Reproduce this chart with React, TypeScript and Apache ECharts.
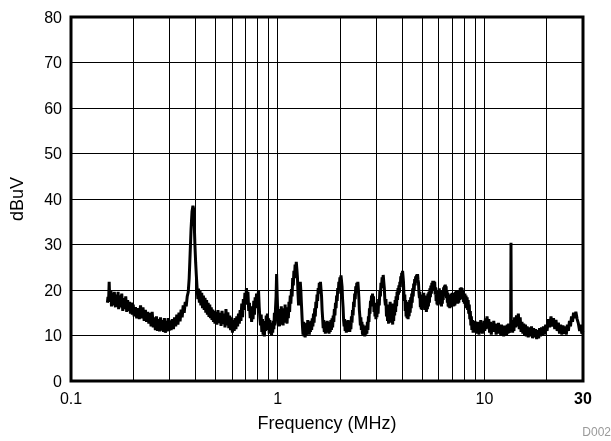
import { useEffect, useRef } from "react";
import * as echarts from "echarts";

// Conducted emission trace, [frequency MHz, level dBuV]
const trace150kTo200k: number[][] = [
  [0.150, 17.2], [0.151, 18.5], [0.152, 17.4], [0.153, 21.8], [0.154, 17.6], [0.156, 19.8], [0.157, 16.4], [0.159, 19.4],
  [0.160, 16.6], [0.162, 19.6], [0.164, 16.2], [0.165, 19.0], [0.167, 16.4], [0.169, 19.6], [0.170, 15.8], [0.172, 18.8],
  [0.174, 16.2], [0.176, 19.2], [0.178, 15.4], [0.180, 18.2], [0.182, 15.8], [0.184, 18.6], [0.186, 15.2], [0.188, 17.8],
  [0.190, 15.4], [0.192, 17.4], [0.194, 14.8], [0.196, 17.2], [0.198, 14.6], [0.200, 16.8],
];

const trace200kTo500k: number[][] = [
  [0.202, 14.2], [0.205, 16.2], [0.208, 13.8], [0.211, 16.0], [0.214, 13.6], [0.217, 16.6], [0.220, 13.8], [0.223, 16.2],
  [0.226, 13.2], [0.229, 15.6], [0.232, 13.0], [0.235, 15.2], [0.238, 12.6], [0.241, 15.0], [0.244, 12.0], [0.247, 15.2],
  [0.250, 11.8], [0.253, 14.0], [0.256, 11.2], [0.259, 14.2], [0.262, 11.0], [0.265, 13.6], [0.268, 10.9], [0.271, 14.0],
  [0.274, 11.1], [0.277, 13.4], [0.280, 10.8], [0.283, 13.8], [0.286, 10.6], [0.289, 13.2], [0.292, 10.9], [0.295, 13.8],
  [0.298, 11.0], [0.301, 13.3], [0.305, 11.2], [0.309, 13.6], [0.313, 11.4], [0.317, 14.0], [0.321, 12.0], [0.325, 14.6],
  [0.329, 12.4], [0.333, 15.0], [0.337, 13.1], [0.341, 15.7], [0.345, 14.0], [0.349, 16.6], [0.353, 15.0], [0.357, 17.4],
  [0.361, 16.4], [0.365, 18.6], [0.369, 19.5], [0.373, 22.5], [0.377, 28.0], [0.381, 33.5], [0.385, 37.2], [0.389, 38.5],
  [0.392, 37.8], [0.395, 34.0], [0.398, 29.5], [0.401, 26.0], [0.404, 23.2], [0.408, 20.0], [0.411, 18.0], [0.414, 20.3],
  [0.418, 17.2], [0.421, 19.8], [0.425, 16.6], [0.429, 19.4], [0.433, 16.0], [0.437, 18.8], [0.441, 15.6], [0.445, 18.3],
  [0.449, 15.0], [0.453, 17.8], [0.457, 14.6], [0.461, 17.2], [0.465, 14.1], [0.469, 16.8], [0.473, 13.8], [0.477, 16.2],
  [0.481, 13.4], [0.485, 15.7], [0.489, 13.0], [0.493, 15.4], [0.497, 12.6],
];

const trace500kTo1M: number[][] = [
  [0.502, 15.2], [0.508, 12.4], [0.514, 15.6], [0.520, 12.7], [0.526, 15.0], [0.532, 12.1], [0.538, 15.4], [0.544, 12.5],
  [0.550, 14.8], [0.556, 11.8], [0.562, 15.8], [0.568, 12.2], [0.574, 15.1], [0.580, 11.6], [0.586, 14.4], [0.592, 11.2],
  [0.598, 14.0], [0.604, 10.6], [0.610, 13.4], [0.616, 11.0], [0.622, 13.8], [0.628, 11.4], [0.634, 14.2], [0.640, 12.0],
  [0.646, 14.8], [0.652, 12.6], [0.658, 15.6], [0.664, 13.2], [0.670, 17.0], [0.676, 14.0], [0.682, 18.0], [0.688, 15.6],
  [0.694, 19.4], [0.700, 16.8], [0.706, 20.4], [0.712, 17.6], [0.718, 19.6], [0.724, 15.4], [0.730, 17.2], [0.736, 13.8],
  [0.742, 16.0], [0.748, 13.0], [0.754, 16.4], [0.760, 13.6], [0.766, 17.6], [0.772, 14.6], [0.778, 18.4], [0.784, 16.0],
  [0.790, 19.2], [0.796, 16.4], [0.802, 18.8], [0.808, 19.8], [0.814, 16.2], [0.820, 13.8], [0.826, 12.2], [0.832, 14.6],
  [0.838, 10.8], [0.844, 13.6], [0.850, 10.2], [0.856, 13.0], [0.862, 9.8], [0.868, 13.2], [0.874, 11.0], [0.880, 14.4],
  [0.886, 11.6], [0.892, 14.8], [0.898, 11.2], [0.904, 13.8], [0.910, 10.4], [0.916, 13.4], [0.922, 10.6], [0.928, 12.8],
  [0.934, 10.0], [0.940, 12.4], [0.946, 10.6], [0.952, 13.2], [0.958, 11.4], [0.964, 15.0], [0.970, 12.2], [0.976, 16.0],
  [0.982, 18.5], [0.988, 23.5], [0.994, 19.0], [1.000, 15.4],
];

const trace1MTo3M: number[][] = [
  [1.006, 12.6], [1.013, 15.8], [1.020, 12.0], [1.027, 15.0], [1.034, 12.4], [1.041, 16.4], [1.048, 13.0], [1.055, 15.2],
  [1.062, 12.2], [1.070, 16.0], [1.078, 12.8], [1.086, 16.8], [1.094, 13.6], [1.102, 15.6], [1.110, 12.6], [1.118, 16.2],
  [1.126, 13.8], [1.134, 17.4], [1.142, 15.2], [1.150, 18.8], [1.158, 17.0], [1.166, 20.2], [1.174, 18.6], [1.182, 22.6],
  [1.190, 21.0], [1.198, 24.2], [1.206, 22.6], [1.214, 25.6], [1.222, 24.2], [1.230, 26.2], [1.238, 24.6], [1.246, 22.8],
  [1.254, 19.2], [1.262, 16.6], [1.270, 18.4], [1.278, 20.2], [1.286, 21.8], [1.294, 20.0], [1.302, 17.2], [1.310, 14.6],
  [1.318, 12.0], [1.326, 10.2], [1.334, 13.0], [1.342, 9.8], [1.350, 12.6], [1.358, 9.6], [1.366, 12.2], [1.374, 10.0],
  [1.382, 12.8], [1.390, 10.4], [1.398, 13.4], [1.406, 10.6], [1.414, 13.0], [1.422, 10.2], [1.430, 12.6], [1.440, 10.8],
  [1.450, 13.2], [1.460, 11.2], [1.470, 13.8], [1.480, 12.0], [1.490, 14.8], [1.500, 12.8], [1.510, 16.0], [1.520, 14.2],
  [1.530, 17.4], [1.540, 16.0], [1.550, 19.0], [1.560, 17.6], [1.570, 20.4], [1.580, 19.2], [1.590, 21.6], [1.600, 20.4],
  [1.610, 21.8], [1.620, 20.2], [1.630, 18.6], [1.640, 15.6], [1.650, 13.8], [1.660, 11.6], [1.670, 13.4], [1.680, 10.8],
  [1.690, 13.0], [1.700, 10.4], [1.712, 12.8], [1.724, 10.6], [1.736, 13.2], [1.748, 11.0], [1.760, 13.0], [1.772, 10.4],
  [1.784, 12.6], [1.796, 10.8], [1.808, 13.4], [1.820, 11.2], [1.832, 13.8], [1.844, 11.8], [1.856, 14.4], [1.868, 13.0],
  [1.880, 15.8], [1.892, 14.4], [1.904, 17.2], [1.916, 16.0], [1.928, 18.8], [1.940, 17.6], [1.952, 20.4], [1.964, 19.2],
  [1.976, 21.8], [1.988, 20.6], [2.000, 22.8], [2.012, 21.6], [2.024, 23.2], [2.036, 22.0], [2.048, 20.8], [2.060, 18.0],
  [2.072, 16.2], [2.084, 13.4], [2.096, 12.0], [2.108, 13.6], [2.120, 11.0], [2.134, 13.2], [2.148, 10.6], [2.162, 13.0],
  [2.176, 10.8], [2.190, 13.4], [2.204, 11.2], [2.218, 13.2], [2.232, 10.8], [2.246, 12.8], [2.260, 11.4], [2.274, 14.2],
  [2.288, 12.8], [2.302, 15.6], [2.316, 14.4], [2.330, 17.4], [2.344, 16.2], [2.358, 19.2], [2.372, 18.0], [2.386, 20.8],
  [2.400, 19.6], [2.414, 21.6], [2.428, 20.4], [2.442, 21.8], [2.456, 20.2], [2.470, 18.4], [2.484, 15.6], [2.498, 14.2],
  [2.512, 12.2], [2.526, 14.0], [2.540, 11.2], [2.556, 13.0], [2.572, 10.2], [2.588, 12.4], [2.604, 10.0], [2.620, 12.0],
  [2.636, 9.8], [2.652, 11.8], [2.668, 10.2], [2.684, 12.2], [2.700, 10.4], [2.716, 13.0], [2.732, 11.2], [2.748, 14.2],
  [2.764, 13.0], [2.780, 16.0], [2.796, 14.8], [2.812, 17.6], [2.828, 16.4], [2.844, 18.8], [2.860, 17.2], [2.876, 19.2],
  [2.892, 16.8], [2.908, 18.6], [2.924, 15.2], [2.940, 17.2], [2.956, 14.2], [2.972, 16.4], [2.988, 13.6], [3.004, 16.0],
  [3.020, 14.0],
];

const trace3MTo10M: number[][] = [
  [3.040, 16.8], [3.060, 14.8], [3.080, 18.0], [3.100, 16.6], [3.120, 19.8], [3.140, 18.6], [3.160, 21.6], [3.180, 20.4],
  [3.200, 22.8], [3.220, 21.6], [3.240, 23.3], [3.260, 21.8], [3.280, 20.4], [3.300, 17.8], [3.320, 16.6], [3.340, 18.0],
  [3.360, 14.2], [3.380, 16.6], [3.400, 13.2], [3.420, 16.0], [3.440, 12.6], [3.460, 16.8], [3.480, 13.4], [3.500, 17.4],
  [3.520, 14.0], [3.540, 17.0], [3.560, 12.8], [3.580, 15.8], [3.600, 12.4], [3.620, 16.2], [3.640, 13.2], [3.660, 17.0],
  [3.680, 14.4], [3.700, 17.8], [3.720, 15.2], [3.740, 18.6], [3.760, 16.4], [3.780, 19.6], [3.800, 17.8], [3.820, 20.4],
  [3.840, 19.0], [3.860, 21.0], [3.880, 19.4], [3.900, 21.8], [3.920, 20.6], [3.940, 23.0], [3.960, 21.8], [3.980, 23.8],
  [4.000, 22.6], [4.020, 24.2], [4.040, 23.0], [4.060, 21.8], [4.080, 19.2], [4.100, 17.6], [4.120, 19.0], [4.140, 15.4],
  [4.160, 17.8], [4.180, 14.2], [4.200, 17.4], [4.225, 13.8], [4.250, 17.0], [4.275, 13.6], [4.300, 17.2], [4.325, 14.2],
  [4.350, 17.8], [4.375, 15.0], [4.400, 18.4], [4.425, 16.0], [4.450, 19.2], [4.475, 17.2], [4.500, 20.4], [4.525, 18.6],
  [4.550, 21.4], [4.575, 20.0], [4.600, 22.4], [4.625, 21.0], [4.650, 23.0], [4.675, 21.6], [4.700, 23.4], [4.725, 22.0],
  [4.750, 23.5], [4.775, 22.2], [4.800, 21.6], [4.825, 19.4], [4.850, 18.2], [4.875, 19.6], [4.900, 16.2], [4.925, 19.0],
  [4.950, 15.8], [4.975, 18.8], [5.000, 15.6], [5.030, 19.0], [5.060, 16.0], [5.090, 19.4], [5.120, 16.4], [5.150, 18.8],
  [5.180, 15.6], [5.210, 18.4], [5.240, 15.2], [5.270, 18.6], [5.300, 15.8], [5.330, 19.2], [5.360, 16.4], [5.390, 19.6],
  [5.420, 17.2], [5.450, 20.4], [5.480, 18.4], [5.510, 21.0], [5.540, 19.2], [5.570, 21.6], [5.600, 19.8], [5.630, 22.0],
  [5.660, 20.4], [5.690, 22.0], [5.720, 20.2], [5.750, 21.8], [5.780, 19.0], [5.810, 20.6], [5.840, 17.6], [5.870, 19.8],
  [5.900, 16.8], [5.930, 19.6], [5.960, 16.6], [5.990, 20.0], [6.020, 17.2], [6.050, 20.4], [6.080, 17.6], [6.110, 20.0],
  [6.140, 16.8], [6.170, 19.4], [6.200, 16.4], [6.230, 19.2], [6.260, 17.0], [6.290, 19.8], [6.320, 17.8], [6.350, 20.6],
  [6.380, 18.6], [6.410, 21.0], [6.440, 19.0], [6.470, 21.2], [6.500, 19.2], [6.530, 20.8], [6.560, 18.2], [6.590, 20.0],
  [6.620, 17.2], [6.650, 19.4], [6.680, 16.4], [6.710, 19.0], [6.740, 16.2], [6.770, 18.8], [6.800, 16.0], [6.840, 19.0],
  [6.880, 16.2], [6.920, 19.2], [6.960, 16.6], [7.000, 19.4], [7.040, 16.8], [7.080, 19.2], [7.120, 16.4], [7.160, 19.0],
  [7.200, 16.6], [7.240, 19.6], [7.280, 17.2], [7.320, 20.0], [7.360, 17.6], [7.400, 19.8], [7.440, 17.0], [7.480, 19.4],
  [7.520, 17.2], [7.560, 20.0], [7.600, 17.8], [7.640, 20.4], [7.680, 18.2], [7.720, 20.6], [7.760, 18.6], [7.800, 20.4],
  [7.840, 18.0], [7.880, 19.8], [7.920, 17.4], [7.960, 19.2], [8.000, 17.0], [8.050, 19.2], [8.100, 16.4], [8.150, 18.8],
  [8.200, 16.0], [8.250, 18.4], [8.300, 15.6], [8.350, 17.8], [8.400, 14.8], [8.450, 16.8], [8.500, 13.6], [8.550, 15.4],
  [8.600, 12.2], [8.650, 14.2], [8.700, 11.2], [8.760, 13.4], [8.820, 10.6], [8.880, 13.2], [8.940, 10.8], [9.000, 13.2],
  [9.060, 10.6], [9.120, 13.0], [9.180, 10.4], [9.240, 12.8], [9.300, 10.6], [9.360, 13.0], [9.420, 10.2], [9.480, 12.6],
  [9.540, 10.8], [9.600, 13.4], [9.660, 10.6], [9.720, 12.8], [9.780, 10.4], [9.840, 12.6], [9.900, 11.0], [9.960, 13.2],
];

const trace10MTo30M: number[][] = [
  [10.04, 11.0], [10.12, 13.8], [10.20, 11.4], [10.30, 14.2], [10.40, 11.8], [10.50, 13.6], [10.60, 10.6], [10.70, 13.0],
  [10.80, 10.2], [10.90, 12.8], [11.00, 10.8], [11.10, 13.2], [11.20, 11.0], [11.30, 12.6], [11.40, 10.2], [11.50, 12.4],
  [11.60, 10.4], [11.70, 12.8], [11.80, 10.6], [11.90, 12.2], [12.00, 10.0], [12.10, 12.4], [12.20, 10.4], [12.30, 12.0],
  [12.40, 9.8], [12.50, 12.2], [12.60, 10.2], [12.70, 11.8], [12.80, 10.0], [12.90, 12.4], [13.00, 10.4], [13.10, 12.6],
  [13.20, 10.6], [13.30, 12.2], [13.40, 11.0], [13.45, 30.4], [13.50, 11.4], [13.60, 12.8], [13.70, 10.6], [13.80, 13.4],
  [13.90, 11.0], [14.00, 14.0], [14.15, 11.8], [14.30, 14.4], [14.45, 12.0], [14.60, 14.8], [14.75, 11.4], [14.90, 14.0],
  [15.05, 10.8], [15.20, 13.0], [15.35, 10.4], [15.50, 12.6], [15.65, 10.0], [15.80, 12.4], [15.95, 9.8], [16.10, 12.0],
  [16.30, 9.6], [16.50, 11.8], [16.70, 9.8], [16.90, 12.0], [17.10, 9.4], [17.30, 11.6], [17.50, 9.6], [17.70, 11.4],
  [17.90, 9.2], [18.10, 11.2], [18.30, 9.4], [18.50, 11.6], [18.70, 9.8], [18.90, 11.8], [19.10, 10.0], [19.30, 12.0],
  [19.50, 10.2], [19.80, 12.4], [20.10, 11.0], [20.40, 13.6], [20.70, 11.8], [21.00, 14.2], [21.30, 12.0], [21.60, 13.8],
  [21.90, 11.4], [22.20, 13.4], [22.50, 11.0], [22.80, 12.8], [23.10, 10.4], [23.40, 12.4], [23.70, 10.2], [24.00, 12.2],
  [24.30, 10.4], [24.60, 12.0], [24.90, 10.2], [25.20, 12.4], [25.50, 11.0], [25.80, 13.2], [26.10, 12.0], [26.40, 14.2],
  [26.70, 13.0], [27.00, 15.0], [27.30, 13.8], [27.70, 15.2], [28.10, 13.6], [28.50, 12.6], [28.90, 11.0], [29.30, 12.4],
  [29.60, 10.4], [30.00, 11.0],
];

const minorGridMHz = [0.2, 0.3, 0.4, 0.5, 0.6, 0.7, 0.8, 0.9, 2, 3, 4, 5, 6, 7, 8, 9, 20];
const xMin = 0.1;
const xMax = 30;
const yMin = 0;
const yMax = 80;
const yStep = 10;

const FONT = "'Liberation Sans', Arial, sans-serif";

export default function App() {
  const ref = useRef<HTMLDivElement>(null);
  useEffect(() => {
    if (!ref.current) return;
    const chart = echarts.init(ref.current, null, { renderer: "svg" });
    const trace = [
      ...trace150kTo200k,
      ...trace200kTo500k,
      ...trace500kTo1M,
      ...trace1MTo3M,
      ...trace3MTo10M,
      ...trace10MTo30M,
    ];
    chart.setOption({
      animation: false,
      grid: {
        left: 71,
        right: 28,
        top: 17,
        bottom: 60,
        show: true,
        borderColor: "#000",
        borderWidth: 3,
        backgroundColor: "transparent",
      },
      xAxis: {
        type: "log",
        logBase: 10,
        min: xMin,
        max: xMax,
        name: "Frequency (MHz)",
        nameLocation: "middle",
        nameGap: 33,
        nameTextStyle: { fontFamily: FONT, fontSize: 18, color: "#000" },
        axisLine: { show: false },
        axisTick: { show: false },
        axisLabel: {
          margin: 9,
          fontFamily: FONT,
          fontSize: 16,
          color: "#000",
          formatter: (v: number) =>
            Math.abs(v - 30) < 0.5 ? "{b|30}" : String(+Number(v).toPrecision(3)),
          rich: {
            b: { fontFamily: FONT, fontSize: 16, fontWeight: "bold", color: "#000" },
          },
        },
        splitLine: { show: true, lineStyle: { color: "#000", width: 1 } },
      },
      yAxis: {
        type: "value",
        min: yMin,
        max: yMax,
        interval: yStep,
        name: "dBuV",
        nameLocation: "middle",
        nameGap: 45,
        nameTextStyle: { fontFamily: FONT, fontSize: 18, color: "#000" },
        axisLine: { show: false },
        axisTick: { show: false },
        axisLabel: { margin: 9, fontFamily: FONT, fontSize: 16, color: "#000" },
        splitLine: { show: true, lineStyle: { color: "#000", width: 1 } },
      },
      series: [
        {
          type: "line",
          data: [],
          silent: true,
          z: 1,
          markLine: {
            silent: true,
            symbol: "none",
            label: { show: false },
            lineStyle: { color: "#000", width: 1, type: "solid" },
            data: minorGridMHz.map((v) => ({ xAxis: v })),
          },
        },
        {
          type: "line",
          data: trace,
          symbol: "none",
          showSymbol: false,
          z: 3,
          lineStyle: { color: "#000", width: 3 },
        },
      ],
      graphic: [
        {
          type: "text",
          right: 0,
          top: 426,
          style: { text: "D002", fill: "#9a9a9a", fontSize: 12, fontFamily: FONT },
        },
      ],
    });
    return () => chart.dispose();
  }, []);
  return (
    <div
      ref={ref}
      style={{ position: "fixed", left: 0, top: 0, width: 611, height: 441 }}
    />
  );
}
